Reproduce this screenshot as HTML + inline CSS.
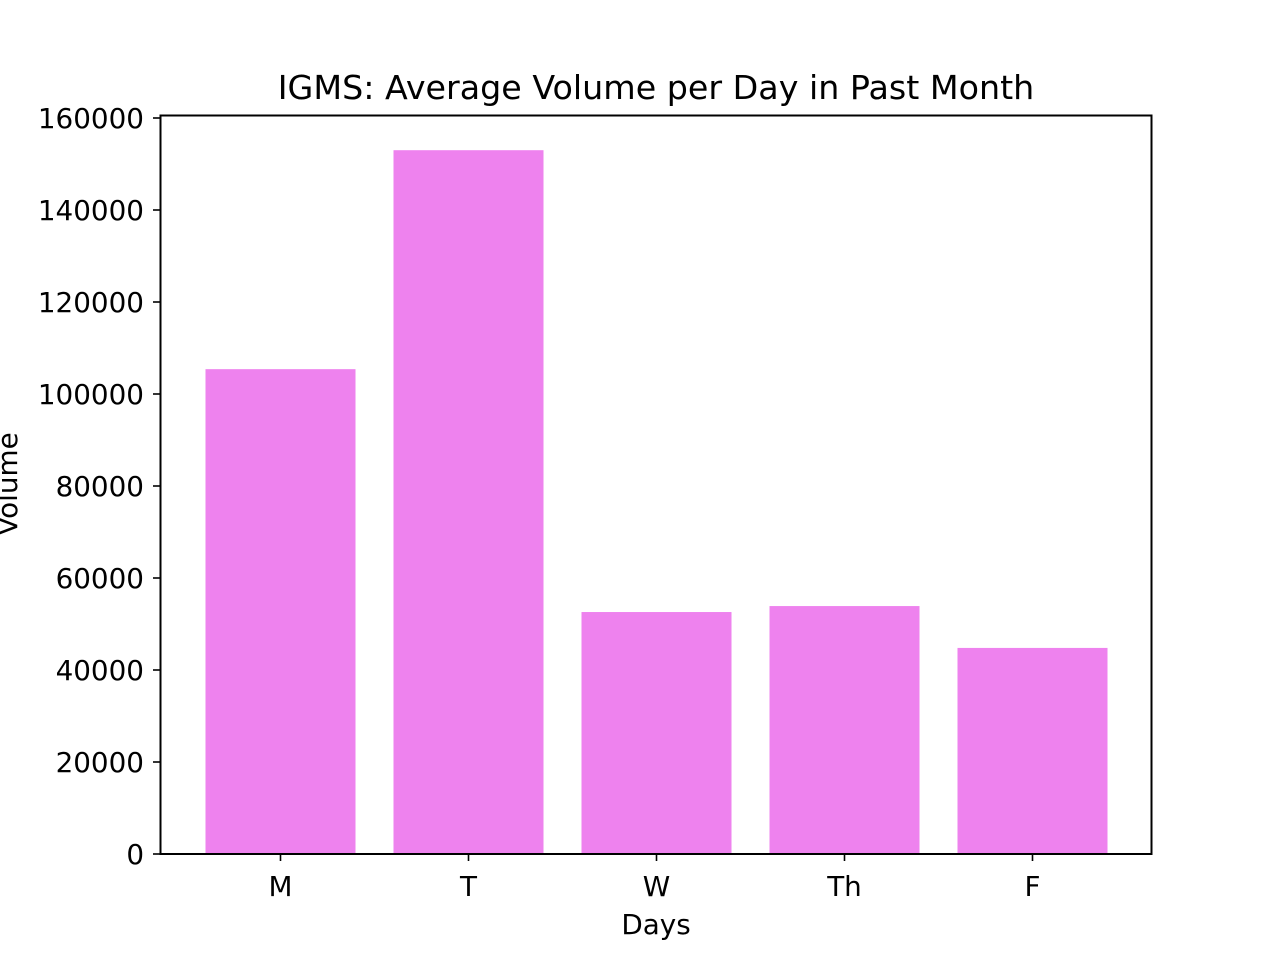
<!DOCTYPE html>
<html><head><meta charset="utf-8"><style>
body{margin:0;background:#fff;}
svg text{font-family:"DejaVu Sans","Liberation Sans",sans-serif;fill:#000;}
</style></head><body>
<svg id="chart" width="1280" height="960" xmlns="http://www.w3.org/2000/svg">
<rect width="1280" height="960" fill="#fff"/>
<text x="656" y="99" font-size="33.3" text-anchor="middle">IGMS: Average Volume per Day in Past Month</text>
<g id="bars"></g>
<g id="axes"></g>
<rect x="160.5" y="115.5" width="991" height="738.5" fill="none" stroke="#000" stroke-width="2"/>
<text x="656" y="934" font-size="27.8" text-anchor="middle">Days</text>
<text transform="translate(17,484) rotate(-90)" font-size="27.8" text-anchor="middle">Volume</text>
</svg>
<script>
const categories = ["M","T","W","Th","F"];
const volumes = [105400, 153000, 52600, 53900, 44800];
const yTicks = [0,20000,40000,60000,80000,100000,120000,140000,160000];

const NS="http://www.w3.org/2000/svg";
const y0=854, pxPerUnit=0.0046;
function yScale(v){return y0 - v*pxPerUnit;}
function xScale(i){return 280.5 + i*188;}
const barW=150;
const bars=document.getElementById('bars');
const axes=document.getElementById('axes');
volumes.forEach((v,i)=>{
  const r=document.createElementNS(NS,'rect');
  r.setAttribute('x',xScale(i)-barW/2);
  r.setAttribute('y',yScale(v));
  r.setAttribute('width',barW);
  r.setAttribute('height',y0-yScale(v));
  r.setAttribute('fill','#ee82ee');
  
  
  bars.appendChild(r);
});
categories.forEach((c,i)=>{
  const l=document.createElementNS(NS,'line');
  l.setAttribute('x1',xScale(i));l.setAttribute('x2',xScale(i));
  l.setAttribute('y1',854);l.setAttribute('y2',861);
  l.setAttribute('stroke','#000');l.setAttribute('stroke-width','1.6');
  
  
  axes.appendChild(l);
  const t=document.createElementNS(NS,'text');
  t.setAttribute('x',xScale(i));t.setAttribute('y',896);
  t.setAttribute('font-size','27.8');t.setAttribute('text-anchor','middle');
  t.textContent=c;
  
  
  axes.appendChild(t);
});
yTicks.forEach(v=>{
  const y=yScale(v);
  const l=document.createElementNS(NS,'line');
  l.setAttribute('x1',153);l.setAttribute('x2',160);
  l.setAttribute('y1',y);l.setAttribute('y2',y);
  l.setAttribute('stroke','#000');l.setAttribute('stroke-width','1.6');
  
  
  axes.appendChild(l);
  const t=document.createElementNS(NS,'text');
  t.setAttribute('x',144);t.setAttribute('y',y+10);
  t.setAttribute('font-size','27.8');t.setAttribute('text-anchor','end');
  t.textContent=String(v);
  
  
  axes.appendChild(t);
});
</script>
</body></html>
